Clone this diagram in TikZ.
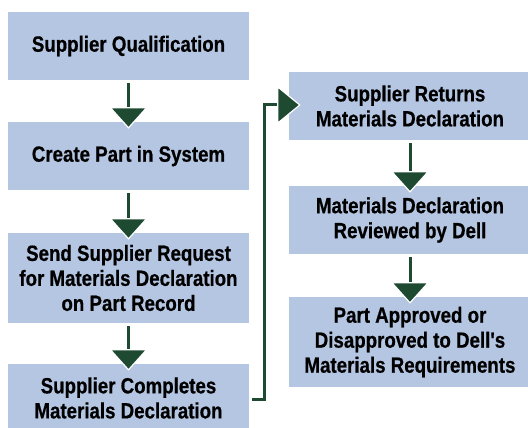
\documentclass[tikz,border=0pt]{standalone}
\usepackage{fontspec}
\setmainfont{Liberation Sans}[FakeStretch=0.85,FakeBold=0.6,Ligatures=TeXOff]
\definecolor{boxblue}{RGB}{180,198,226}
\definecolor{arrgreen}{RGB}{30,74,50}
\tikzset{
  box/.style={fill=boxblue, draw=none, align=center, text=black, inner sep=0pt,
    font=\fontsize{22}{25}\selectfont\bfseries},
  conn/.style={draw=arrgreen, line width=3pt},
  tipshape/.style={fill=arrgreen, draw=white, line width=1.2pt, line join=miter}
}
\begin{document}
\begin{tikzpicture}[x=1pt,y=-1pt]
\useasboundingbox (0,0) rectangle (528,428);
\clip (0,0) rectangle (528,428);
% left column
\node[box, minimum width=241pt, minimum height=68pt] (b1) at (128.5,46) {Supplier Qualification};
\node[box, minimum width=241pt, minimum height=68pt] (b2) at (128.5,156) {Create Part in System};
\node[box, minimum width=241pt, minimum height=90pt] (b3) at (128.5,278) {Send Supplier Request\\for Materials Declaration\\on Part Record};
\node[box, minimum width=241pt, minimum height=68pt] (b4) at (128.5,398) {Supplier Completes\\Materials Declaration};
% right column
\node[box, minimum width=242pt, minimum height=68pt] (r1) at (410,106) {Supplier Returns\\Materials Declaration};
\node[box, minimum width=242pt, minimum height=68pt] (r2) at (410,220) {Materials Declaration\\Reviewed by Dell};
\node[box, minimum width=242pt, minimum height=90pt] (r3) at (410,342) {Part Approved or\\Disapproved to Dell's\\Materials Requirements};
% vertical connectors
\foreach \a/\b in {b1/b2,b2/b3,b3/b4,r1/r2,r2/r3}{
  \draw[conn] ([yshift=-3pt]\a.south) -- ([yshift=14pt]\b.north);
  \filldraw[tipshape] ([xshift=-18pt,yshift=14pt]\b.north) -- ([xshift=18pt,yshift=14pt]\b.north) -- ([yshift=-6pt]\b.north) -- cycle;
}
% side connector
\coordinate (c1) at ([xshift=3pt,yshift=-1pt]b4.east);
\coordinate (c2) at ([xshift=-10pt,yshift=1pt]r1.west);
\draw[conn, line join=miter] (c1) -- ++(12.5,0) |- (c2);
\filldraw[tipshape] ([xshift=-11pt,yshift=19pt]r1.west) -- ([xshift=-11pt,yshift=-17pt]r1.west) -- ([xshift=11pt,yshift=1pt]r1.west) -- cycle;
\end{tikzpicture}
\end{document}
